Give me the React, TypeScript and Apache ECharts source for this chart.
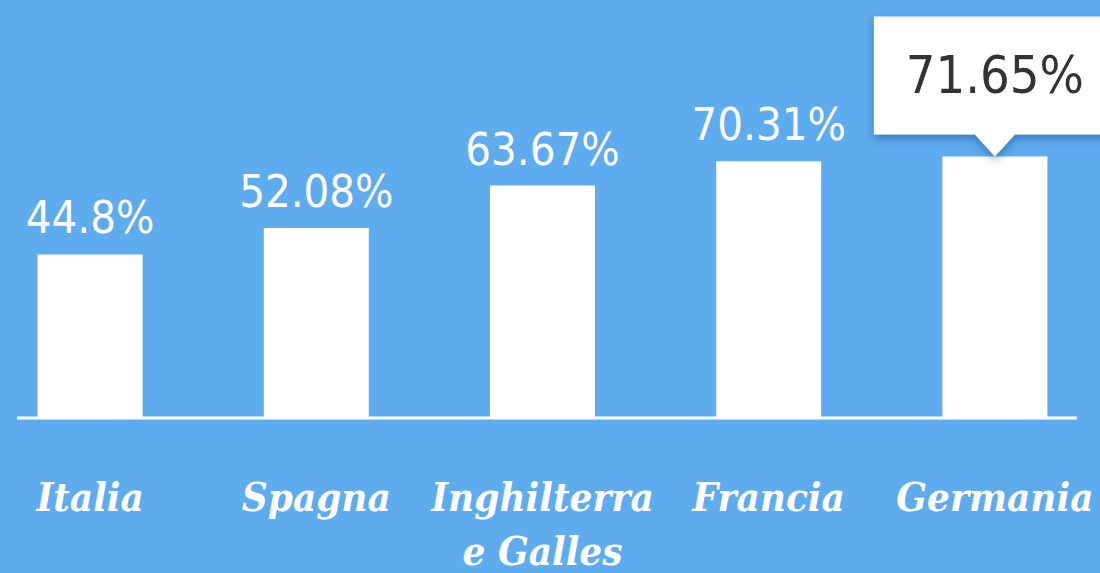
import React, { useEffect, useRef } from "react";
import * as echarts from "echarts";

const categories = ["Italia", "Spagna", "Inghilterra\ne Galles", "Francia", "Germania"];
const values = [44.8, 52.08, 63.67, 70.31, 71.65];
const highlightIndex = 4;

const BG = "#5eabee";
const SHIFT = 23;

export default function App() {
  const ref = useRef<HTMLDivElement>(null);
  useEffect(() => {
    if (!ref.current) return;
    const chart = echarts.init(ref.current, undefined, { renderer: "svg" });
    const barData = values.map((v, i) =>
      i === highlightIndex ? { value: v, label: { show: false } } : { value: v }
    );
    chart.setOption({
      animation: false,
      backgroundColor: BG,
      grid: {
        left: 0,
        right: 0,
        top: 53,
        bottom: 155,
        containLabel: false,
        outerBoundsMode: "none",
      },
      xAxis: {
        type: "category",
        data: categories,
        axisLine: { show: false },
        axisTick: { show: false },
        axisLabel: {
          color: "#ffffff",
          fontFamily: "'DejaVu Serif Condensed', 'DejaVu Serif', serif",
          fontStyle: "italic",
          fontWeight: "bold",
          fontSize: 40,
          lineHeight: 54,
          margin: 51,
          interval: 0,
        },
      },
      yAxis: {
        type: "value",
        min: 0,
        max: 100,
        show: false,
        splitLine: { show: false },
      },
      series: [
        {
          type: "bar",
          data: barData,
          barWidth: 105,
          itemStyle: { color: "#ffffff" },
          label: {
            show: true,
            position: "top",
            distance: 14,
            color: "#ffffff",
            fontFamily: "'DejaVu Sans Condensed', 'DejaVu Sans', sans-serif",
            fontSize: 45,
            formatter: (p: any) => p.value + "%",
          },
          markPoint: {
            symbol: "path://M0,0 H242 V118 H141 L121,140 L101,118 H0 Z",
            symbolSize: [242, 140],
            symbolOffset: [0, -70],
            itemStyle: {
              color: "#ffffff",
              shadowColor: "rgba(10,50,110,0.4)",
              shadowBlur: 8,
              shadowOffsetY: 4,
            },
            label: {
              show: true,
              position: "inside",
              offset: [0, -11],
              color: "#333333",
              fontFamily: "'DejaVu Sans Condensed', 'DejaVu Sans', sans-serif",
              fontSize: 52,
              formatter: (p: any) => p.value + "%",
            },
            data: [
              {
                coord: [highlightIndex, values[highlightIndex]],
                value: values[highlightIndex],
              },
            ],
          },
        },
      ],
      graphic: [
        {
          type: "line",
          z: 100,
          shape: { x1: 17 + SHIFT, y1: 418, x2: 1077 + SHIFT, y2: 418 },
          style: { stroke: "#ffffff", lineWidth: 3 },
        },
      ],
    });
    return () => chart.dispose();
  }, []);
  return (
    <div
      ref={ref}
      style={{ position: "fixed", left: -SHIFT, top: 0, width: 1100 + 31, height: 573, overflow: "hidden" }}
    />
  );
}
